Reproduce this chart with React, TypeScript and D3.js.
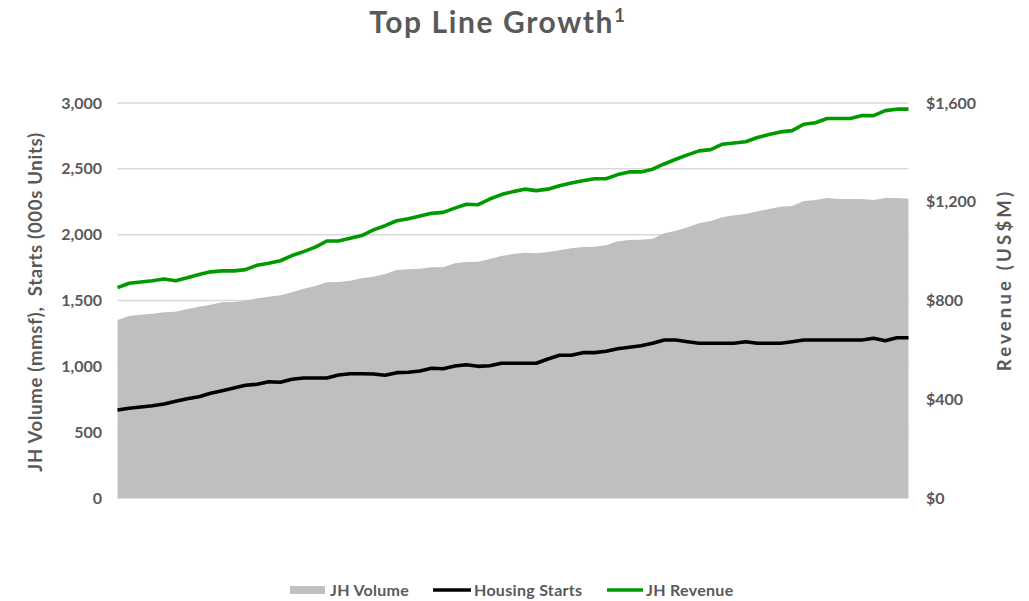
import React from "react";
import * as d3 from "d3";

const volume = [1352,1382,1392,1400,1410,1415,1435,1453,1468,1486,1489,1499,1517,1529,1539,1562,1590,1610,1638,1640,1650,1669,1681,1701,1732,1737,1742,1752,1752,1783,1792,1795,1815,1838,1853,1863,1858,1868,1881,1896,1906,1909,1919,1950,1960,1962,1969,2010,2030,2056,2086,2104,2132,2147,2157,2177,2195,2212,2218,2256,2263,2279,2271,2271,2271,2263,2279,2279,2273];
const starts = [668,681,691,701,714,734,754,769,795,815,835,856,864,883,879,902,911,911,911,934,944,944,942,932,952,955,965,985,982,1003,1012,1000,1005,1023,1023,1023,1023,1056,1084,1084,1104,1104,1114,1134,1145,1157,1175,1200,1200,1187,1175,1175,1175,1175,1187,1175,1175,1175,1187,1200,1200,1200,1200,1200,1200,1213,1195,1217,1217];
const revenue = [852,870,875,880,887,880,892,905,916,920,920,925,943,951,961,982,998,1016,1041,1041,1052,1063,1086,1103,1123,1131,1142,1153,1157,1174,1190,1188,1211,1229,1241,1251,1245,1251,1265,1276,1285,1293,1293,1310,1321,1321,1332,1353,1372,1390,1406,1411,1433,1438,1443,1460,1472,1483,1488,1514,1520,1537,1537,1537,1549,1549,1569,1575,1575];
const leftTicks = [0,500,1000,1500,2000,2500,3000];
const rightTicks = [0,400,800,1200,1600];
const legendItems = ["JH Volume","Housing Starts","JH Revenue"];

const W = 1029, H = 601;
const L = 117.5, R = 908.5, T = 103, B = 498;
const FONT = "Lato, 'Open Sans', sans-serif";
const TXT = "#595959";

export default function App() {
  const idx = d3.range(volume.length);
  const x = d3.scaleLinear().domain([0, volume.length - 1]).range([L, R]);
  const yL = d3.scaleLinear().domain([0, 3000]).range([B, T]);
  const yR = d3.scaleLinear().domain([0, 1600]).range([B, T]);
  const area = d3.area<number>().x(i => x(i)).y0(yL(0)).y1(i => yL(volume[i]));
  const lineS = d3.line<number>().x(i => x(i)).y(i => yL(starts[i]));
  const lineR = d3.line<number>().x(i => x(i)).y(i => yR(revenue[i]));
  return (
    <svg width={W} height={H} style={{ position: "absolute", left: 0, top: 0, background: "#fff" }} fontFamily={FONT}>
      <text x={498} y={33} textAnchor="middle" fontSize={30} fontWeight="bold" fill={TXT} letterSpacing={1.6}>
        Top Line Growth<tspan fontSize={19} dy={-11}>1</tspan>
      </text>
      {leftTicks.map(t => (
        <line key={t} x1={L} x2={R} y1={yL(t)} y2={yL(t)} stroke="#d9d9d9" strokeWidth={1.5} />
      ))}
      <path d={area(idx) || ""} fill="#bfbfbf" />
      <path d={lineS(idx) || ""} fill="none" stroke="#000" strokeWidth={3.6} strokeLinejoin="round" />
      <path d={lineR(idx) || ""} fill="none" stroke="#009900" strokeWidth={3.6} strokeLinejoin="round" />
      {leftTicks.map(t => (
        <text key={t} x={102} y={yL(t)} dy="0.35em" textAnchor="end" fontSize={16} fontWeight="bold" fill={TXT}>
          {d3.format(",")(t)}
        </text>
      ))}
      {rightTicks.map(t => (
        <text key={t} x={926} y={yR(t)} dy="0.35em" textAnchor="start" fontSize={16} fontWeight="bold" fill={TXT}>
          {"$" + d3.format(",")(t)}
        </text>
      ))}
      <text transform="translate(42,302) rotate(-90)" textAnchor="middle" fontSize={18.5} fontWeight="bold" fill={TXT} letterSpacing={0.7} style={{ whiteSpace: "pre" }}>
        {"JH Volume (mmsf),  Starts (000s Units)"}
      </text>
      <text transform="translate(1011,280) rotate(-90)" textAnchor="middle" fontSize={18.5} fontWeight="bold" fill={TXT} letterSpacing={3.2}>
        Revenue (US$M)
      </text>
      <g fontSize={16} fontWeight="bold" fill={TXT}>
        <rect x={290} y={586} width={35} height={8} fill="#bfbfbf" />
        <text x={330} y={596} letterSpacing={0.3}>{legendItems[0]}</text>
        <line x1={433} x2={471} y1={590} y2={590} stroke="#000" strokeWidth={3.5} />
        <text x={474} y={596} letterSpacing={0.3}>{legendItems[1]}</text>
        <line x1={607} x2={643} y1={590} y2={590} stroke="#009900" strokeWidth={3.5} />
        <text x={646} y={596} letterSpacing={0.3}>{legendItems[2]}</text>
      </g>
    </svg>
  );
}
